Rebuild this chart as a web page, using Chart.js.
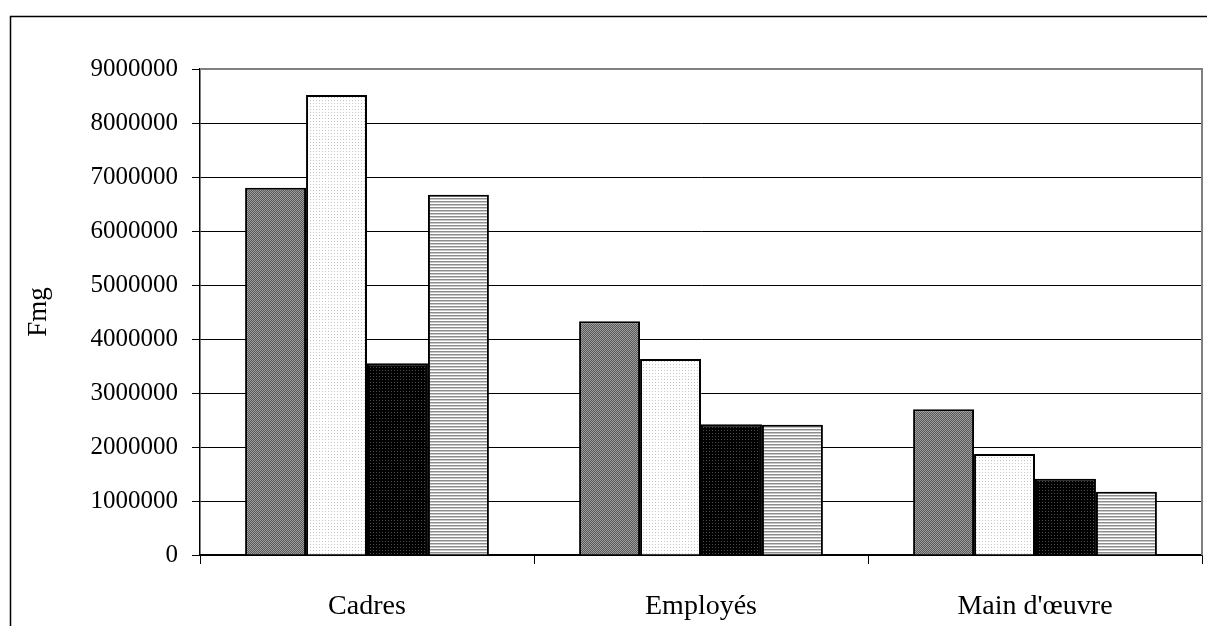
<!DOCTYPE html>
<html>
<head>
<meta charset="utf-8">
<script src="https://cdn.jsdelivr.net/npm/chart.js@4"></script>
<style>
  html, body { margin:0; padding:0; background:#fff; }
  #wrap { width:1207px; height:626px; position:relative; }
</style>
</head>
<body>
<div id="wrap"><canvas id="myChart" width="1207" height="626"></canvas></div>
<script>
// categories and values (Fmg)
var v_labels = ["Cadres", "Employés", "Main d'œuvre"];
var v_serie1 = [6800000, 4330000, 2700000];
var v_serie2 = [8520000, 3630000, 1870000];
var v_serie3 = [3550000, 2420000, 1410000];
var v_serie4 = [6670000, 2410000, 1170000];
var v_ymax = 9000000;
var v_ystep = 1000000;
var v_ytitle = "Fmg";

// small tile patterns like the old office fills
function f_pattern(p_w, p_h, p_draw){
  var c = document.createElement("canvas");
  c.width = p_w; c.height = p_h;
  var x = c.getContext("2d");
  p_draw(x);
  return x.createPattern(c, "repeat");
}
var ctx = document.getElementById("myChart").getContext("2d");

// dark gray diagonal hatch
var v_fill1 = f_pattern(4, 4, function(x){
  x.fillStyle = "#9c9c9c"; x.fillRect(0,0,4,4);
  x.fillStyle = "#5a5a5a";
  for(var i=0;i<4;i++){ x.fillRect(i,3-i,1,1); x.fillRect((i+2)%4,3-i,1,1); }
});
// white with light dots
var v_fill2 = f_pattern(3, 3, function(x){
  x.fillStyle = "#ffffff"; x.fillRect(0,0,3,3);
  x.fillStyle = "#c8c8c8"; x.fillRect(1,1,1,1);
});
// black with dark gray dots
var v_fill3 = f_pattern(3, 3, function(x){
  x.fillStyle = "#000000"; x.fillRect(0,0,3,3);
  x.fillStyle = "#4a4a4a"; x.fillRect(1,1,1,1);
});
// horizontal gray stripes
var v_fill4 = f_pattern(1, 3, function(x){
  x.fillStyle = "#8c8c8c"; x.fillRect(0,0,1,1);
  x.fillStyle = "#c8c8c8"; x.fillRect(0,1,1,1);
  x.fillStyle = "#ffffff"; x.fillRect(0,2,1,1);
});

// outer frame and gray plot border
var v_frame = {
  id: "frame",
  beforeDraw: function(chart){
    var c = chart.ctx;
    c.save();
    c.strokeStyle = "#000"; c.lineWidth = 1.5;
    c.beginPath();
    c.moveTo(10.5, 626); c.lineTo(10.5, 16.5); c.lineTo(1207, 16.5);
    c.stroke();
    c.restore();
  },
  afterDatasetsDraw: function(chart){
    var a = chart.chartArea, c = chart.ctx;
    c.save();
    c.strokeStyle = "#808080"; c.lineWidth = 2;
    c.beginPath();
    c.moveTo(a.left, a.top); c.lineTo(a.right, a.top); c.lineTo(a.right, a.bottom);
    c.stroke();
    c.restore();
  }
};

var v_font = "'Liberation Serif', 'Times New Roman', serif";
function f_ds(p_data, p_fill){
  return { data: p_data, backgroundColor: p_fill, borderColor: "#000", borderWidth: 2,
           barPercentage: 1.0, categoryPercentage: 0.73 };
}

var myChart = new Chart(ctx, {
  type: "bar",
  data: {
    labels: v_labels,
    datasets: [f_ds(v_serie1, v_fill1), f_ds(v_serie2, v_fill2), f_ds(v_serie3, v_fill3), f_ds(v_serie4, v_fill4)]
  },
  plugins: [v_frame],
  options: {
    responsive: false,
    animation: false,
    events: [],
    layout: { padding: { left: 10, top: 69, right: 5, bottom: 0 } },
    plugins: { legend: { display: false }, tooltip: { enabled: false } },
    scales: {
      x: {
        afterFit: function(s){ s.height = 71; },
        grid: { offset: true, drawOnChartArea: false, drawTicks: true, tickLength: 9, tickColor: "#000", lineWidth: 1 },
        border: { color: "#000", width: 1.5 },
        ticks: { color: "#000", padding: 26, font: { family: v_font, size: 28 } }
      },
      y: {
        min: 0, max: v_ymax,
        afterFit: function(s){ s.width = 190; },
        grid: {
          color: function(c){ return c.index == 9 ? "#808080" : "#000"; },
          tickColor: "#000", tickLength: 8, lineWidth: 1
        },
        border: { color: "#000", width: 1.5 },
        ticks: { stepSize: v_ystep, color: "#000", padding: 14, font: { family: v_font, size: 25 },
                 callback: function(v){ return String(v); } },
        title: { display: true, text: v_ytitle, color: "#000", padding: { top: 13, bottom: 0 }, font: { family: v_font, size: 27 } }
      }
    }
  }
});
</script>
</body>
</html>
